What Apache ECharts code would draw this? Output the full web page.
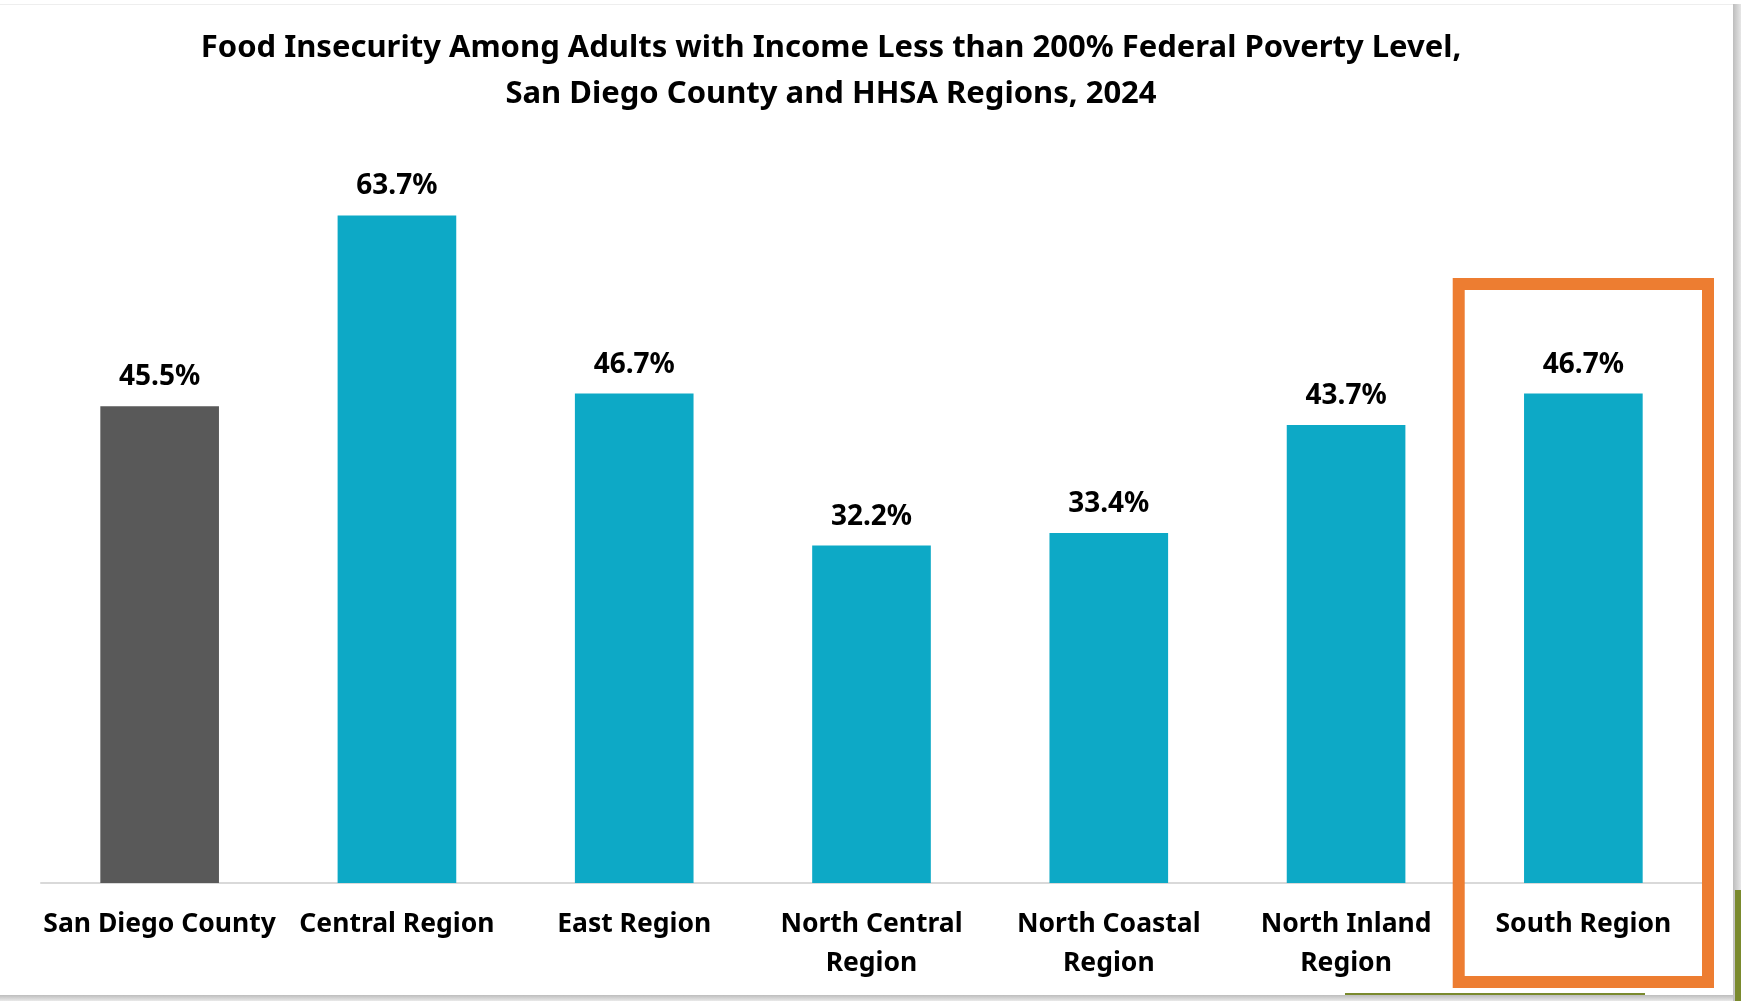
<!DOCTYPE html>
<html>
<head>
<meta charset="utf-8">
<script src="https://cdn.jsdelivr.net/npm/echarts@6/dist/echarts.min.js"></script>
<style>
html,body{margin:0;padding:0;background:#fff;}
#chart{width:1741px;height:1001px;}
</style>
</head>
<body>
<div id="chart"></div>
<script>
const titleText = 'Food Insecurity Among Adults with Income Less than 200% Federal Poverty Level,\nSan Diego County and HHSA Regions, 2024';
const categories = ['San Diego County', 'Central Region', 'East Region', 'North Central Region', 'North Coastal Region', 'North Inland Region', 'South Region'];
const values = [45.5, 63.7, 46.7, 32.2, 33.4, 43.7, 46.7];
const barColors = ['#595959', '#0DA9C6', '#0DA9C6', '#0DA9C6', '#0DA9C6', '#0DA9C6', '#0DA9C6'];
const highlightCategory = 'South Region';

const FONT = '"Noto Sans", "Open Sans", sans-serif';
const chart = echarts.init(document.getElementById('chart'), null, {renderer: 'canvas'});

const gridLeft = 41, gridRight = 1741 - 1702, gridTop = 149.4, gridBottom = 1001 - 883;

chart.setOption({
  backgroundColor: '#ffffff',
  animation: false,
  title: {
    text: titleText,
    left: 826,
    textAlign: 'center',
    top: 20,
    textStyle: {fontFamily: FONT, fontWeight: 'bold', fontSize: 31, color: '#000', lineHeight: 46}
  },
  grid: {left: gridLeft, right: gridRight, top: gridTop, bottom: gridBottom, containLabel: false},
  xAxis: {
    type: 'category',
    data: categories,
    axisLine: {lineStyle: {color: '#D9D9D9', width: 2}},
    axisTick: {show: false},
    axisLabel: {
      interval: 0,
      margin: 22,
      fontFamily: FONT, fontWeight: 'bold', fontSize: 26.5, color: '#000', lineHeight: 39,
      formatter: function (v) { return v.indexOf('North ') === 0 ? v.replace(' Region', '\nRegion') : v; }
    }
  },
  yAxis: {
    type: 'value', min: 0, max: 70, interval: 10,
    show: false,
    splitLine: {show: false}
  },
  series: [{
    type: 'bar',
    barWidth: '50%',
    data: values.map((v, i) => ({value: v, itemStyle: {color: barColors[i]}})),
    label: {
      show: true, position: 'top', distance: 15,
      fontFamily: FONT, fontWeight: 'bold', fontSize: 28, color: '#000',
      formatter: p => p.value.toFixed(1) + '%'
    }
  }]
});

function drawDecor() {
  const idx = categories.indexOf(highlightCategory);
  const cx = chart.convertToPixel({xAxisIndex: 0}, categories[idx]);
  const band = chart.convertToPixel({xAxisIndex: 0}, categories[1]) - chart.convertToPixel({xAxisIndex: 0}, categories[0]);
  const half = band / 2 + 12;
  chart.setOption({
    graphic: [
      {type: 'rect', shape: {x: cx - half + 6, y: 284, width: 2 * half - 12, height: 698},
       style: {fill: 'none', stroke: '#ED7D31', lineWidth: 12}, z: 100},
      {type: 'rect', shape: {x: 1733, y: 4, width: 8, height: 997},
       style: {fill: new echarts.graphic.LinearGradient(0, 0, 1, 0, [{offset: 0, color: '#bdbdbd'}, {offset: 1, color: '#e6e6e6'}])}, z: 50},
      {type: 'rect', shape: {x: 1735, y: 890, width: 6, height: 111}, style: {fill: '#7A8A2E'}, z: 51},
      {type: 'rect', shape: {x: 1345, y: 993, width: 300, height: 8}, style: {fill: '#7A8A2E'}, z: 49},
      {type: 'rect', shape: {x: 0, y: 995, width: 1733, height: 6},
       style: {fill: new echarts.graphic.LinearGradient(0, 0, 0, 1, [{offset: 0, color: '#bdbdbd'}, {offset: 1, color: '#e9e9e9'}])}, z: 50},
      {type: 'rect', shape: {x: 0, y: 4, width: 1733, height: 1}, style: {fill: '#eeeeee'}, z: 50}
    ]
  });
}
drawDecor();
</script>
</body>
</html>
